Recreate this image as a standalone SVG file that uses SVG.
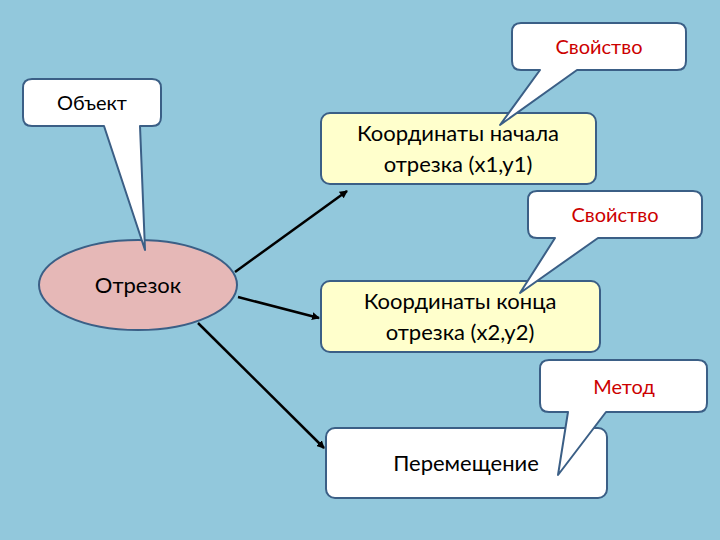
<svg xmlns="http://www.w3.org/2000/svg" width="720" height="540" viewBox="0 0 720 540">
<style>
.box{stroke:#3B5F86;stroke-width:2}
.call{fill:#fff;stroke:#3B5F86;stroke-width:2;stroke-linejoin:round}
.t{font-family:Lato,"Open Sans",sans-serif;font-size:22px;fill:#000;text-anchor:middle}
.r{font-family:Lato,"Open Sans",sans-serif;font-size:20px;fill:#CC0000;text-anchor:middle}
.c{font-family:Lato,"Open Sans",sans-serif;font-size:20px;fill:#000;text-anchor:middle}
.a{stroke:#000;stroke-width:2.5;fill:none;marker-end:url(#ah)}
</style>
<defs><marker id="ah" markerWidth="8" markerHeight="8" refX="7" refY="4" orient="auto" markerUnits="userSpaceOnUse" viewBox="0 0 8 8"><path d="M0,0 L8,4 L0,8 Z" fill="#000"/></marker></defs>
<rect width="720" height="540" fill="#92C8DC"/>
<g id="connectors">
<line class="a" x1="235" y1="272" x2="347" y2="191"/>
<line class="a" x1="238" y1="297" x2="319" y2="318"/>
<line class="a" x1="198" y1="323" x2="324" y2="448"/>
</g>
<g id="n-otrezok"><ellipse class="box" cx="138" cy="285" rx="99" ry="45" fill="#E6B8B7"/><text class="t" x="138" y="293" font-size="24">Отрезок</text></g>
<g id="n-start"><rect class="box" x="321" y="113" width="275" height="71" rx="9" fill="#FFFFCC"/><text class="t" x="458" y="141">Координаты начала</text><text class="t" x="458" y="172">отрезка (x1,y1)</text></g>
<g id="n-end"><rect class="box" x="321" y="281" width="279" height="71" rx="9" fill="#FFFFCC"/><text class="t" x="460" y="309">Координаты конца</text><text class="t" x="460" y="340">отрезка (x2,y2)</text></g>
<g id="n-move"><rect class="box" x="326" y="428" width="281" height="70" rx="9" fill="#fff"/><text class="t" x="466" y="471">Перемещение</text></g>
<g id="c-obj"><path class="call" d="M32,79 H152 Q161,79 161,88 V117 Q161,126 152,126 H140 L145,250 L104,126 H32 Q23,126 23,117 V88 Q23,79 32,79 Z"/><text class="c" x="92" y="110">Объект</text></g>
<g id="c-prop1"><path class="call" d="M521,23 H677 Q686,23 686,32 V61 Q686,70 677,70 H577 L500,125 L540,70 H521 Q512,70 512,61 V32 Q512,23 521,23 Z"/><text class="r" x="599" y="54">Свойство</text></g>
<g id="c-prop2"><path class="call" d="M537,191 H693 Q702,191 702,200 V229 Q702,238 693,238 H598 L520,293 L555,238 H537 Q528,238 528,229 V200 Q528,191 537,191 Z"/><text class="r" x="615" y="222">Свойство</text></g>
<g id="c-method"><path class="call" d="M549,360 H698 Q707,360 707,369 V403 Q707,412 698,412 H606 L558,475 L568,412 H549 Q540,412 540,403 V369 Q540,360 549,360 Z"/><text class="r" x="624" y="394">Метод</text></g>
</svg>
